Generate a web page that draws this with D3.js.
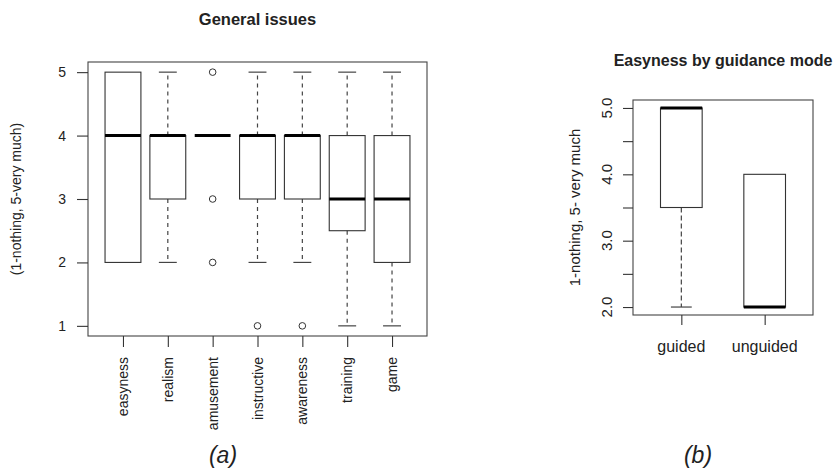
<!DOCTYPE html>
<html><head><meta charset="utf-8">
<script src="https://cdn.jsdelivr.net/npm/d3@7"></script>
<style>
html,body{margin:0;padding:0;background:#fff;}
svg{display:block;}
text{font-family:"Liberation Sans",Arial,sans-serif;fill:#222;}
</style></head>
<body>
<svg id="chart" width="835" height="474"></svg>
<script>
// ---- Panel (a): General issues ----
const categoriesA = ["easyness","realism","amusement","instructive","awareness","training","game"];
const lowA    = [2, 2, 4, 2, 2, 1,   1];
const q1A     = [2, 3, 4, 3, 3, 2.5, 2];
const medianA = [4, 4, 4, 4, 4, 3,   3];
const q3A     = [5, 4, 4, 4, 4, 4,   4];
const highA   = [5, 5, 4, 5, 5, 5,   5];
const outliersA = [[], [], [5, 3, 2], [1], [1], [], []];
const yTicksA = [1, 2, 3, 4, 5];

// ---- Panel (b): Easyness by guidance mode ----
const categoriesB = ["guided","unguided"];
const lowB    = [2, 2];
const q1B     = [3.5, 2];
const medianB = [5, 2];
const q3B     = [5, 4];
const highB   = [5, 4];
const yTicksB = [2, 2.5, 3, 3.5, 4, 4.5, 5];
const yLabelsB = [2, 3, 4, 5];

const svg = d3.select("#chart");
const LINE = "#333", WHISK = "#444";

function drawPanel(cfg) {
  const g = svg.append("g");
  const n = cfg.cats.length;
  const x = d3.scaleLinear().domain([0.5 - 0.04 * n, n + 0.5 + 0.04 * n]).range([cfg.left, cfg.right]);
  const span = cfg.yMax - cfg.yMin;
  const y = d3.scaleLinear().domain([cfg.yMin - 0.04 * span, cfg.yMax + 0.04 * span]).range([cfg.bottom, cfg.top]);
  const bw = (x(1) - x(0)) * cfg.boxwex;

  cfg.cats.forEach((c, i) => {
    const cx = x(i + 1);
    [[cfg.q1[i], cfg.low[i]], [cfg.q3[i], cfg.high[i]]].forEach(([a, b]) => {
      if (a !== b) {
        g.append("line").attr("x1", cx).attr("x2", cx).attr("y1", y(a)).attr("y2", y(b))
          .attr("stroke", WHISK).attr("stroke-width", 1.2).attr("stroke-dasharray", cfg.dash);
        g.append("line").attr("x1", cx - bw / 4).attr("x2", cx + bw / 4).attr("y1", y(b)).attr("y2", y(b))
          .attr("stroke", WHISK).attr("stroke-width", 1.2);
      }
    });
    if (cfg.q1[i] !== cfg.q3[i]) {
      g.append("rect").attr("x", cx - bw / 2).attr("width", bw)
        .attr("y", y(cfg.q3[i])).attr("height", y(cfg.q1[i]) - y(cfg.q3[i]))
        .attr("fill", "none").attr("stroke", LINE).attr("stroke-width", 1.1);
    }
    g.append("line").attr("x1", cx - bw / 2).attr("x2", cx + bw / 2)
      .attr("y1", y(cfg.med[i])).attr("y2", y(cfg.med[i]))
      .attr("stroke", "#000").attr("stroke-width", 3);
    (cfg.out ? cfg.out[i] : []).forEach(v => {
      g.append("circle").attr("cx", cx).attr("cy", y(v)).attr("r", 3.3)
        .attr("fill", "none").attr("stroke", LINE).attr("stroke-width", 1);
    });
  });

  g.append("rect").attr("x", cfg.left).attr("y", cfg.top)
    .attr("width", cfg.right - cfg.left).attr("height", cfg.bottom - cfg.top)
    .attr("fill", "none").attr("stroke", "#444").attr("stroke-width", 1.1);

  const ya = g.append("g").attr("transform", `translate(${cfg.left},0)`)
    .call(d3.axisLeft(y).tickValues(cfg.yTicks).tickSize(cfg.tick).tickSizeOuter(0).tickPadding(0));
  ya.select(".domain").remove();
  ya.selectAll("line").attr("stroke", "#333").attr("stroke-width", 1.1);
  ya.selectAll("text").remove();
  cfg.yTicks.forEach(v => {
    if (!cfg.yLabels.includes(v)) return;
    if (cfg.rotYLabels) {
      g.append("text").attr("transform", `translate(${cfg.left - 21},${y(v)}) rotate(-90)`)
        .attr("text-anchor", "middle").attr("font-size", cfg.tickFont).text(cfg.yFmt(v));
    } else {
      g.append("text").attr("x", cfg.left - 22).attr("y", y(v)).attr("dy", "0.36em")
        .attr("text-anchor", "end").attr("font-size", cfg.tickFont).text(cfg.yFmt(v));
    }
  });

  const xa = g.append("g").attr("transform", `translate(0,${cfg.bottom})`)
    .call(d3.axisBottom(x).tickValues(d3.range(1, n + 1)).tickSize(cfg.tick).tickSizeOuter(0));
  xa.select(".domain").remove();
  xa.selectAll("line").attr("stroke", "#333").attr("stroke-width", 1.1);
  xa.selectAll("text").remove();
  cfg.cats.forEach((c, i) => {
    if (cfg.rotXLabels) {
      g.append("text").attr("transform", `translate(${x(i + 1) + 5},${cfg.bottom + 21}) rotate(-90)`)
        .attr("text-anchor", "end").attr("font-size", cfg.catFont).text(c);
    } else {
      g.append("text").attr("x", x(i + 1)).attr("y", cfg.bottom + 37)
        .attr("text-anchor", "middle").attr("font-size", cfg.catFont).text(c);
    }
  });

  g.append("text").attr("x", (cfg.left + cfg.right) / 2).attr("y", cfg.titleY)
    .attr("text-anchor", "middle").attr("font-weight", "bold").attr("font-size", cfg.titleFont)
    .attr("fill", "#111").text(cfg.title);
  g.append("text").attr("transform", `translate(${cfg.yLabX},${(cfg.top + cfg.bottom) / 2}) rotate(-90)`)
    .attr("text-anchor", "middle").attr("font-size", cfg.yLabFont).text(cfg.yLab);
  g.append("text").attr("x", cfg.capX).attr("y", 463).attr("text-anchor", "middle")
    .attr("font-family", "'Liberation Serif','Times New Roman',serif").attr("font-style", "italic")
    .attr("font-size", 23).attr("fill", "#000").text(cfg.caption);
}

drawPanel({
  cats: categoriesA, low: lowA, q1: q1A, med: medianA, q3: q3A, high: highA, out: outliersA,
  yMin: 1, yMax: 5, yTicks: yTicksA, yLabels: yTicksA, yFmt: d3.format("d"),
  left: 88, right: 427, top: 62, bottom: 336, boxwex: 0.8, dash: "4,4", tick: 11,
  rotYLabels: false, rotXLabels: true, tickFont: 14, catFont: 14,
  title: "General issues", titleY: 25, titleFont: 16.5,
  yLab: "(1-nothing, 5-very much)", yLabX: 21, yLabFont: 14,
  caption: "(a)", capX: 223
});

drawPanel({
  cats: categoriesB, low: lowB, q1: q1B, med: medianB, q3: q3B, high: highB, out: null,
  yMin: 2, yMax: 5, yTicks: yTicksB, yLabels: yLabelsB, yFmt: d3.format(".1f"),
  left: 633, right: 813, top: 100, bottom: 315, boxwex: 0.5, dash: "5,3", tick: 10,
  rotYLabels: true, rotXLabels: false, tickFont: 15, catFont: 16,
  title: "Easyness by guidance mode", titleY: 66, titleFont: 16,
  yLab: "1-nothing, 5- very much", yLabX: 580, yLabFont: 15,
  caption: "(b)", capX: 698
});
</script>
</body></html>
